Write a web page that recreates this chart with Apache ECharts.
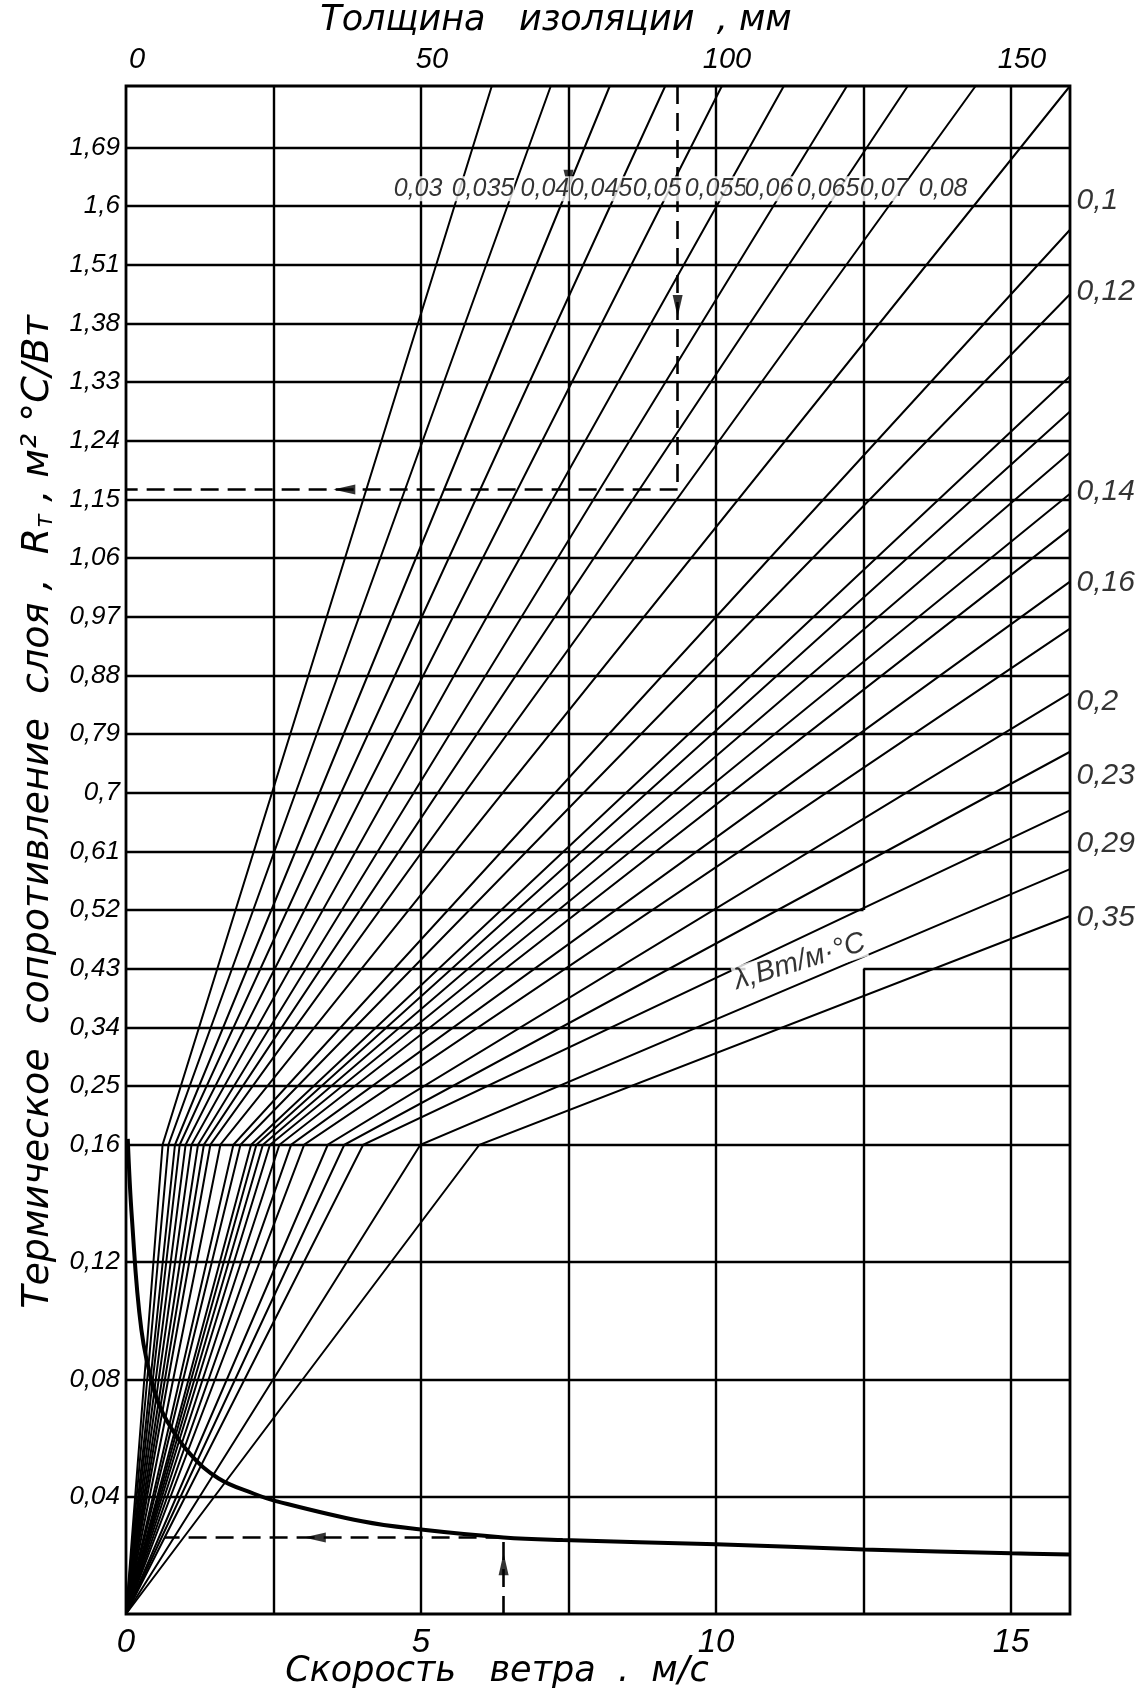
<!DOCTYPE html>
<html><head><meta charset="utf-8">
<script src="https://cdn.jsdelivr.net/npm/echarts@6/dist/echarts.min.js"></script>
<style>html,body{margin:0;padding:0;background:#fff}#c{width:1144px;height:1692px}</style>
</head><body><div id="c"></div>
<script>
// ===== DATA =====
// y axis is drawn in "row" units: row 0 = 0,16 ; upper rows every printed value; lower rows 0.02 per row
const upperRows   = [0,1,2,3,4,5,6,7,8,9,10,11,12,13,14,15,16,17];
const upperLabels = ['0,16','0,25','0,34','0,43','0,52','0,61','0,7','0,79','0,88','0,97','1,06','1,15','1,24','1,33','1,38','1,51','1,6','1,69'];
const lowerR      = [0.12, 0.08, 0.04];
const lowerLabels = ['0,12','0,08','0,04'];
const xTickWind   = [0, 5, 10, 15];          // m/s
const xTickThick  = [0, 50, 100, 150];       // mm
const vGrid       = [2.5, 5, 7.5, 10, 15];   // full-height vertical lines, m/s

// lambda lines ending on the top edge
const lambdaTop      = ['0,03','0,035','0,04','0,045','0,05','0,055','0,06','0,065','0,07','0,08'];
const topStartWind   = [0.62, 0.72, 0.83, 0.91, 1.01, 1.11, 1.22, 1.32, 1.43, 1.60];
const topEndWind     = [6.2, 7.2, 8.2, 9.14, 10.1, 11.15, 12.22, 13.25, 14.4, 16.0];
const topLabelWind   = [4.95, 6.05, 7.1, 8.05, 9.0, 10.0, 10.9, 11.9, 12.85, 13.85];
// lambda lines ending on the right edge
const rightStartWind = [1.82, 1.94, 2.12, 2.21, 2.32, 2.44, 2.6, 2.8, 3.02, 3.42, 3.7, 4.02, 4.99, 5.99];
const rightEndRow    = [15.6, 14.5, 13.1, 12.5, 11.8, 11.1, 10.5, 9.6, 8.8, 7.7, 6.7, 5.7, 4.7, 3.9];
const lambdaRight    = ['0,1','0,12','0,14','0,16','0,2','0,23','0,29','0,35'];
const rightLabelRow  = [16.1, 14.54, 11.14, 9.58, 7.55, 6.29, 5.13, 3.87];

// outer resistance curve vs wind speed
const windCurve = [0.03, 0.1, 0.26, 0.48, 0.69, 1.09, 1.57, 2.17, 2.54, 4.0, 5.0, 6.4, 7.4, 10, 12.5, 15, 16];
const rCurve    = [0.162, 0.135, 0.097, 0.076, 0.066, 0.0545, 0.0462, 0.041, 0.0385, 0.0316, 0.0288, 0.0261, 0.0252, 0.0238, 0.0220, 0.0207, 0.0203];

// worked example (dashed)
const exThickWind = 9.35, exRow = 11.17;      // upper example
const exWind = 6.4, exR = 0.0261;             // lower example

// ===== helpers (axis transform) =====
const ROW_MIN = -8, ROW_MAX = 18.05;
const rowOfR = r => (r - 0.16) / 0.02;       // lower part of the scale
const labelMap = {};
upperRows.forEach((r,i)=>labelMap[r]=upperLabels[i]);
lowerR.forEach((r,i)=>labelMap[Math.round(rowOfR(r))]=lowerLabels[i]);

const NUMF = '"Liberation Sans", sans-serif';

// grid segments
const gridSegs = [];
vGrid.forEach(x => gridSegs.push({coords:[[x,ROW_MIN],[x,ROW_MAX]]}));
gridSegs.push({coords:[[12.5,ROW_MIN],[12.5,3]]});
gridSegs.push({coords:[[12.5,4],[12.5,ROW_MAX]]});
upperRows.forEach(r => {
  if (r === 4) gridSegs.push({coords:[[0,4],[12.5,4]]});
  else if (r === 3) { gridSegs.push({coords:[[0,3],[10.5,3]]}); gridSegs.push({coords:[[12.5,3],[16,3]]}); }
  else gridSegs.push({coords:[[0,r],[16,r]]});
});
lowerR.forEach(r => gridSegs.push({coords:[[0,rowOfR(r)],[16,rowOfR(r)]]}));

// lambda polylines: origin -> start on 0,16 row -> edge
const lamLines = [];
topStartWind.forEach((s,i)=> lamLines.push({coords:[[0,ROW_MIN],[s,0],[topEndWind[i],ROW_MAX]]}));
rightStartWind.forEach((s,i)=> lamLines.push({coords:[[0,ROW_MIN],[s,0],[16,rightEndRow[i]]]}));

const curveData = windCurve.map((w,i)=>[w, rowOfR(rCurve[i])]);
const exRowLow = rowOfR(exR);
const dashSegs = [
  {coords:[[exThickWind,ROW_MAX],[exThickWind,exRow]]},
  {coords:[[exThickWind,exRow],[0,exRow]]},
  {coords:[[exWind,ROW_MIN],[exWind,exRowLow]]},
  {coords:[[exWind,exRowLow],[0.66,exRowLow]]}
];
const ARROW_DOWN='path://M0,0 L10,0 L5,20 Z', ARROW_LEFT='path://M20,0 L20,10 L0,5 Z', ARROW_UP='path://M0,20 L10,20 L5,0 Z';
const arrows = [
  {value:[exThickWind,14.3], symbol:ARROW_DOWN, symbolSize:[10,22]},
  {value:[3.7,exRow], symbol:ARROW_LEFT, symbolSize:[22,10]},
  {value:[exWind,-7.15], symbol:ARROW_UP, symbolSize:[10,22]},
  {value:[3.2,exRowLow], symbol:ARROW_LEFT, symbolSize:[22,10]},
  {value:[7.5,16.45], symbol:ARROW_DOWN, symbolSize:[10,20]}
];

const txt = (size, fam) => ({fontSize:size, fontFamily:fam||NUMF, fontStyle:'italic', color:'#000'});

const chart = echarts.init(document.getElementById('c'), null, {renderer:'canvas'});
chart.setOption({
  animation:false,
  backgroundColor:'#fff',
  grid:{left:126, top:86, width:944, height:1528, show:true, borderColor:'#000', borderWidth:2.8, backgroundColor:'transparent'},
  xAxis:[
    {type:'value', min:0, max:16, interval:5, position:'bottom',
     axisLine:{show:false}, axisTick:{show:false}, splitLine:{show:false},
     axisLabel:Object.assign(txt(33),{margin:12, showMaxLabel:false, formatter:v=>xTickWind.includes(v)?String(v):''})},
    {type:'value', min:0, max:160, interval:50, position:'top',
     axisLine:{show:false}, axisTick:{show:false}, splitLine:{show:false},
     axisLabel:Object.assign(txt(29),{margin:12, padding:[0,0,0,22], showMaxLabel:false, formatter:v=>xTickThick.includes(v)?String(v):''})}
  ],
  yAxis:{type:'value', min:ROW_MIN, max:ROW_MAX, interval:1,
     axisLine:{show:false}, axisTick:{show:false}, splitLine:{show:false},
     axisLabel:Object.assign(txt(26),{margin:6, showMaxLabel:false, formatter:v=>{const k=Math.round(v); return Math.abs(v-k)<1e-6 && labelMap[k]!==undefined ? labelMap[k] : '';}})},
  graphic:[
    {type:'text', x:556, y:21, style:{text:'Толщина   изоляции  , мм', font:'italic 35px "DejaVu Sans"', fill:'#000', align:'center', verticalAlign:'middle'}},
    {type:'text', x:497, y:1672, style:{text:'Скорость   ветра  .  м/с', font:'italic 35px "DejaVu Sans"', fill:'#000', align:'center', verticalAlign:'middle'}},
    {type:'text', x:38, y:812, rotation:Math.PI/2, style:{text:'Термическое  сопротивление  слоя ,  R{s|т} , м² °C/Вт', font:'italic 38px "DejaVu Sans"', fill:'#000', align:'center', verticalAlign:'middle',
      rich:{s:{font:'italic 24px "DejaVu Sans"', fill:'#000', padding:[15,0,0,0]}}}}
  ],
  series:[
    {type:'lines', coordinateSystem:'cartesian2d', xAxisIndex:0, yAxisIndex:0, silent:true, z:2,
     lineStyle:{color:'#000', width:2.4, opacity:1}, data:gridSegs},
    {type:'lines', coordinateSystem:'cartesian2d', xAxisIndex:0, yAxisIndex:0, polyline:true, silent:true, z:3,
     lineStyle:{color:'#000', width:2, opacity:1}, data:lamLines},
    {type:'line', xAxisIndex:0, yAxisIndex:0, data:curveData, smooth:0.4, showSymbol:false, silent:true, z:4,
     lineStyle:{color:'#000', width:4}},
    {type:'lines', coordinateSystem:'cartesian2d', xAxisIndex:0, yAxisIndex:0, silent:true, z:4,
     lineStyle:{color:'#000', width:2.6, type:[18,9], opacity:1}, data:dashSegs},
    {type:'scatter', xAxisIndex:0, yAxisIndex:0, silent:true, z:5, itemStyle:{color:'#000'}, data:arrows},
    {type:'scatter', xAxisIndex:0, yAxisIndex:0, silent:true, z:6, symbolSize:1, itemStyle:{color:'rgba(0,0,0,0)'},
     label:Object.assign({show:true, position:'inside', formatter:'{b}'}, txt(25), {backgroundColor:'#fff', padding:[0,0]}),
     data:lambdaTop.map((n,i)=>({name:n, value:[topLabelWind[i], 16.3]}))},
    {type:'scatter', xAxisIndex:0, yAxisIndex:0, silent:true, z:6, symbolSize:1, clip:false, itemStyle:{color:'rgba(0,0,0,0)'},
     label:Object.assign({show:true, position:'right', distance:6, formatter:'{b}'}, txt(30)),
     data:lambdaRight.map((n,i)=>({name:n, value:[16, rightLabelRow[i]]}))},
    {type:'scatter', xAxisIndex:0, yAxisIndex:0, silent:true, z:6, symbolSize:1, itemStyle:{color:'rgba(0,0,0,0)'},
     label:Object.assign({show:true, position:'inside', rotate:17, formatter:'{b}'}, txt(29), {backgroundColor:'#fff'}),
     data:[{name:'λ,Вт/м·°C', value:[11.42, 3.12]}]}
  ]
});
</script></body></html>
